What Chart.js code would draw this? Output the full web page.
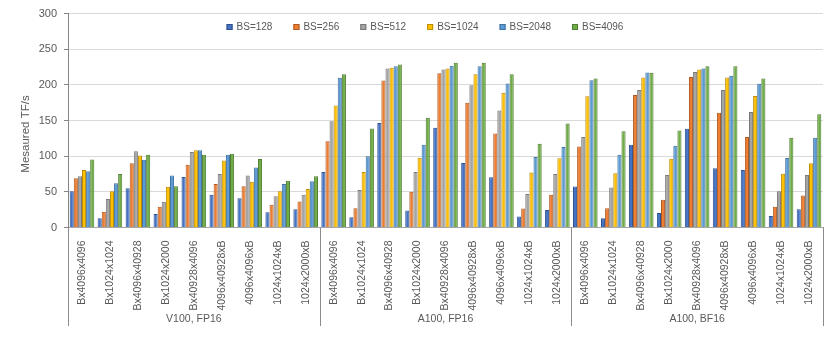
<!DOCTYPE html>
<html>
  <head>
    <title>Measured TF/s by shape and batch size</title>
    <style>
      body {
        margin: 0;
        background: #fff;
      }
      #wrap {
        width: 830px;
        height: 339px;
      }
    </style>
    <script src="https://cdn.jsdelivr.net/npm/chart.js"></script>
  </head>
  <body>
    <div id="wrap"><canvas id="chart"></canvas></div>

    <script>
      // groups along the bottom, then the 9 GEMM shapes inside each group
      const groups = ["V100, FP16", "A100, FP16", "A100, BF16"];
      const shapes = [
        "Bx4096x4096",
        "Bx1024x1024",
        "Bx4096x40928",
        "Bx1024x2000",
        "Bx40928x4096",
        "4096x40928xB",
        "4096x4096xB",
        "1024x1024xB",
        "1024x2000xB",
      ];
      const yTicks = [0, 50, 100, 150, 200, 250, 300];

      // one array per batch size, 9 values per group (V100 FP16, A100 FP16, A100 BF16)
      const bs128 = [
        51, 13, 55, 19, 71, 46, 41, 21.5, 25.5,
        78, 14.5, 146.5, 24, 140, 90.5, 70.5, 15.5, 24.5,
        57.5, 13, 116, 20.5, 138.5, 83, 80.5, 16, 25.5,
      ];
      const bs256 = [
        69, 22, 90, 29, 88, 61, 58, 32, 36.5,
        121, 27, 206, 50, 216.5, 175, 132, 26.5, 46,
        113.5, 27, 186, 39, 211, 161, 127, 29, 45,
      ];
      const bs512 = [
        72, 40, 107, 36, 106, 75, 73, 44, 46,
        149, 52.5, 223, 78, 221.5, 199.5, 164, 47, 75,
        127, 56, 193, 73.5, 218, 193, 162, 51, 73.5,
      ];
      const bs1024 = [
        80.5, 51, 101, 57, 108.5, 94, 64, 51, 54,
        171, 78, 224, 98, 223, 215, 189, 77, 97,
        184, 76, 210.5, 96.5, 221.5, 210.5, 184.5, 75.5, 90,
      ];
      const bs2048 = [
        79, 62, 95, 73, 108.5, 102, 84, 61, 65,
        210, 100, 226, 116, 227, 226, 202, 99, 113,
        206.5, 102, 217.5, 114.5, 223, 213, 201.5, 97.5, 126,
      ];
      const bs4096 = [
        95.5, 75, 102, 58, 102, 103.5, 96, 65.5, 72,
        215, 139, 228.5, 154, 231, 231, 215, 117.5, 146,
        209, 135, 217, 136, 226, 226, 209, 126, 159,
      ];

      const labels = groups.flatMap(() => shapes);

      const series = [
        { label: "BS=128", data: bs128, fill: "#4472C4", edge: "#2F528F" },
        { label: "BS=256", data: bs256, fill: "#ED7D31", edge: "#AE5A21" },
        { label: "BS=512", data: bs512, fill: "#A5A5A5", edge: "#787878" },
        { label: "BS=1024", data: bs1024, fill: "#FFC000", edge: "#BC8C00" },
        { label: "BS=2048", data: bs2048, fill: "#5B9BD5", edge: "#41719C" },
        { label: "BS=4096", data: bs4096, fill: "#70AD47", edge: "#507E32" },
      ];

      const textColor = "#595959";
      const fontFamily = "'Liberation Sans', Arial, sans-serif";

      // legend sits inside the plot, under the 300 gridline, so draw it by hand
      const insideLegend = {
        id: "insideLegend",
        afterDraw(chart) {
          const ctx = chart.ctx;
          const box = 6;
          const gap = 4;
          const pad = 21;
          ctx.save();
          ctx.font = "10px " + fontFamily;
          ctx.textBaseline = "middle";
          const widths = chart.data.datasets.map(
            (d) => box + gap + ctx.measureText(d.label).width
          );
          const total =
            widths.reduce((a, b) => a + b, 0) + pad * (widths.length - 1);
          let x = 425 - total / 2;
          const y = 27;
          chart.data.datasets.forEach((d, i) => {
            ctx.fillStyle = d.backgroundColor;
            ctx.strokeStyle = d.borderColor;
            ctx.lineWidth = 1;
            ctx.fillRect(x, y - box / 2, box, box);
            ctx.strokeRect(x + 0.5, y - box / 2 + 0.5, box - 1, box - 1);
            ctx.fillStyle = textColor;
            ctx.textAlign = "left";
            ctx.fillText(d.label, x + box + gap, y + 0.5);
            x += widths[i] + pad;
          });
          ctx.restore();
        },
      };

      // second level of the category axis: separators and group names
      const groupAxis = {
        id: "groupAxis",
        afterDraw(chart) {
          const ctx = chart.ctx;
          const xs = chart.scales.x;
          const step = (xs.right - xs.left) / labels.length;
          const top = xs.top;
          const bottom = 326;
          ctx.save();
          ctx.strokeStyle = "#8c8c8c";
          ctx.lineWidth = 1;
          for (let g = 0; g <= groups.length; g++) {
            const px = Math.round(xs.left + g * shapes.length * step) + 0.5;
            ctx.beginPath();
            ctx.moveTo(px, top);
            ctx.lineTo(px, bottom);
            ctx.stroke();
          }
          ctx.fillStyle = textColor;
          ctx.font = "10.5px " + fontFamily;
          ctx.textAlign = "center";
          ctx.textBaseline = "middle";
          groups.forEach((name, g) => {
            const cx = xs.left + (g + 0.5) * shapes.length * step;
            ctx.fillText(name, cx, 319);
          });

          // y title, placed a bit lower than the axis middle like the original
          ctx.translate(25.5, 134);
          ctx.rotate(-Math.PI / 2);
          ctx.font = "11.5px " + fontFamily;
          ctx.fillText("Mesaured TF/s", 0, 0);
          ctx.restore();
        },
      };

      new Chart(document.getElementById("chart"), {
        type: "bar",
        data: {
          labels,
          datasets: series.map((s) => ({
            label: s.label,
            data: s.data,
            backgroundColor: s.fill,
            borderColor: s.edge,
            borderWidth: 1,
            categoryPercentage: 0.88,
            barPercentage: 1.0,
          })),
        },
        options: {
          responsive: true,
          maintainAspectRatio: false,
          animation: false,
          layout: { padding: { top: 9.5, right: 7, bottom: 0, left: 0 } },
          plugins: {
            legend: { display: false },
            tooltip: { enabled: false },
          },
          scales: {
            x: {
              grid: { display: false },
              border: { display: true, color: "#a6a6a6" },
              ticks: {
                autoSkip: false,
                minRotation: 90,
                maxRotation: 90,
                padding: 5,
                color: textColor,
                font: { family: fontFamily, size: 10.5 },
              },
              afterFit(scale) {
                scale.height = 111.5;
              },
            },
            y: {
              min: yTicks[0],
              max: yTicks[yTicks.length - 1],
              afterBuildTicks(scale) {
                scale.ticks = yTicks.map((v) => ({ value: v }));
              },
              grid: {
                color: "#d9d9d9",
                tickColor: "#868686",
                tickLength: 4,
              },
              border: { display: true, color: "#868686" },
              ticks: {
                padding: 7,
                color: textColor,
                font: { family: fontFamily, size: 11 },
              },
              afterFit(scale) {
                scale.width = 68;
              },
            },
          },
        },
        plugins: [insideLegend, groupAxis],
      });
    </script>
  </body>
</html>
